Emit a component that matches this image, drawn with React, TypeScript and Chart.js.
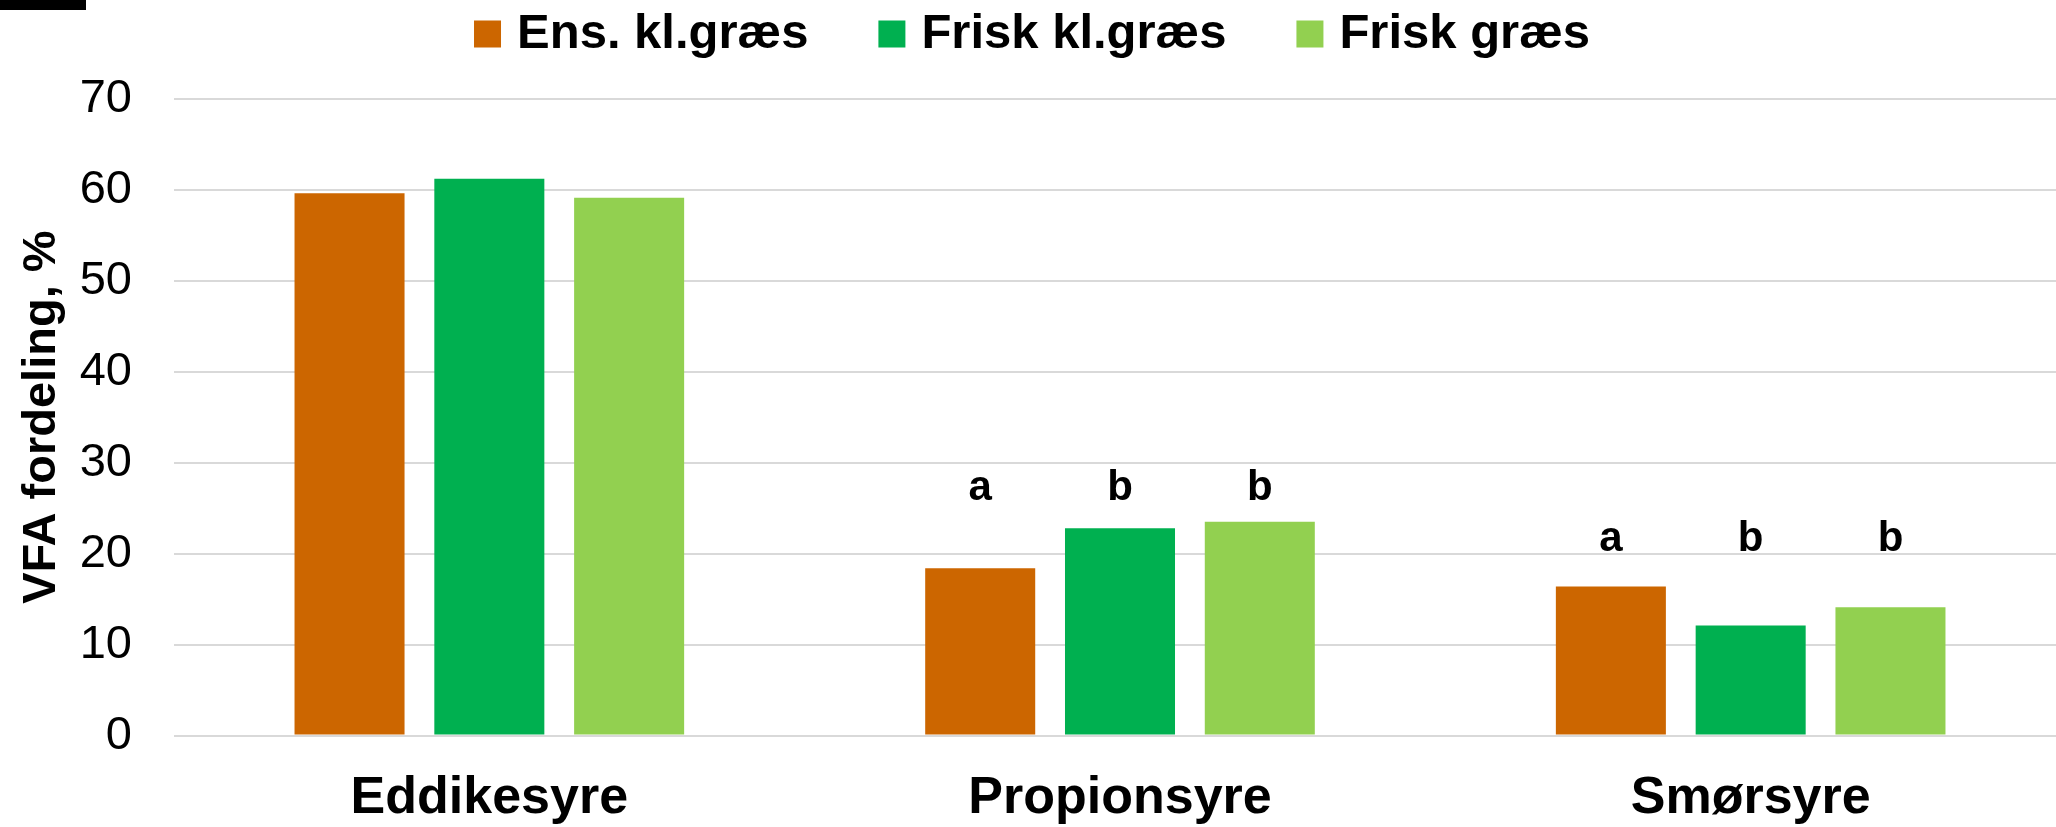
import React, { useEffect, useRef } from "react";
import { Chart, registerables } from "chart.js";

Chart.register(...registerables);

// ---- data ----
const categories = ["Eddikesyre", "Propionsyre", "Smørsyre"];
const seriesNames = ["Ens. kl.græs", "Frisk kl.græs", "Frisk græs"];
const ensKlGraes = [59.6, 18.4, 16.4];
const friskKlGraes = [61.2, 22.8, 12.1];
const friskGraes = [59.1, 23.5, 14.1];
const seriesColors = ["#CC6600", "#00B050", "#92D050"];

// significance letters per series (one per category) and the value level they sit at
const ensLetters = ["", "a", "a"];
const friskKlLetters = ["", "b", "b"];
const friskLetters = ["", "b", "b"];
const letterLevels = [0, 25.9, 20.3];

const yMin = 0;
const yMax = 70;
const yStep = 10;
const yTitle = "VFA fordeling, %";

const FONT = "'Liberation Sans', Arial, Helvetica, sans-serif";

const letterSets = [ensLetters, friskKlLetters, friskLetters];

const letterPlugin = {
  id: "sigLetters",
  afterDatasetsDraw(chart: any) {
    const ctx = chart.ctx;
    const yScale = chart.scales.y;
    ctx.save();
    ctx.font = `bold 42px ${FONT}`;
    ctx.fillStyle = "#000";
    ctx.textAlign = "center";
    ctx.textBaseline = "alphabetic";
    letterSets.forEach((letters, di) => {
      const meta = chart.getDatasetMeta(di);
      letters.forEach((t, ci) => {
        if (!t) return;
        const bar = meta.data[ci];
        ctx.fillText(t, bar.x, yScale.getPixelForValue(letterLevels[ci]));
      });
    });
    ctx.restore();
  },
};

export default function App() {
  const ref = useRef<HTMLCanvasElement>(null);

  useEffect(() => {
    const seriesValues = [ensKlGraes, friskKlGraes, friskGraes];
    const chart = new Chart(ref.current as HTMLCanvasElement, {
      type: "bar",
      data: {
        labels: categories,
        datasets: seriesNames.map((name, i) => ({
          label: name,
          data: seriesValues[i],
          backgroundColor: seriesColors[i],
          borderWidth: 0,
          categoryPercentage: 0.665,
          barPercentage: 0.787,
        })),
      },
      options: {
        responsive: false,
        animation: false,
        devicePixelRatio: 1,
        layout: { padding: { top: -69, left: 6.5, right: 0, bottom: 0 } },
        plugins: {
          tooltip: { enabled: false },
          legend: {
            position: "top",
            labels: {
              usePointStyle: true,
              pointStyle: "rect",
              boxWidth: 10,
              boxHeight: 27,
              padding: 78.5,
              color: "#000",
              font: { family: FONT, size: 49, weight: "bold" },
            },
          },
          // empty spacer between legend and plot area
          title: {
            display: true,
            text: "",
            position: "top",
            weight: 500,
            font: { size: 10, lineHeight: 1 },
            padding: { top: 20.2, bottom: 0 },
          },
        },
        scales: {
          x: {
            grid: { display: false },
            border: { display: false },
            ticks: {
              color: "#000",
              padding: 24,
              font: { family: FONT, size: 52, weight: "bold" },
            },
            afterFit: (scale: any) => {
              scale.height = 91.4;
            },
          },
          y: {
            min: yMin,
            max: yMax,
            border: { display: false },
            grid: { color: "#d9d9d9", lineWidth: 2, drawTicks: false },
            ticks: {
              stepSize: yStep,
              color: "#000",
              padding: 42,
              font: { family: FONT, size: 47 },
            },
            title: {
              display: true,
              text: yTitle,
              color: "#000",
              padding: { top: 7, bottom: 0 },
              font: { family: FONT, size: 47, weight: "bold" },
            },
            afterFit: (scale: any) => {
              scale.width = 167.5;
            },
          },
        },
      },
      plugins: [letterPlugin],
    } as any);
    return () => chart.destroy();
  }, []);

  return (
    <div
      style={{
        position: "fixed",
        left: 0,
        top: 0,
        width: 2056,
        height: 827,
        overflow: "hidden",
        background: "#fff",
      }}
    >
      <canvas
        ref={ref}
        width={2066}
        height={827}
        style={{ display: "block", width: 2066, height: 827 }}
      />
      <div
        style={{
          position: "absolute",
          left: 0,
          top: 0,
          width: 86,
          height: 10,
          background: "#000",
        }}
      />
    </div>
  );
}
